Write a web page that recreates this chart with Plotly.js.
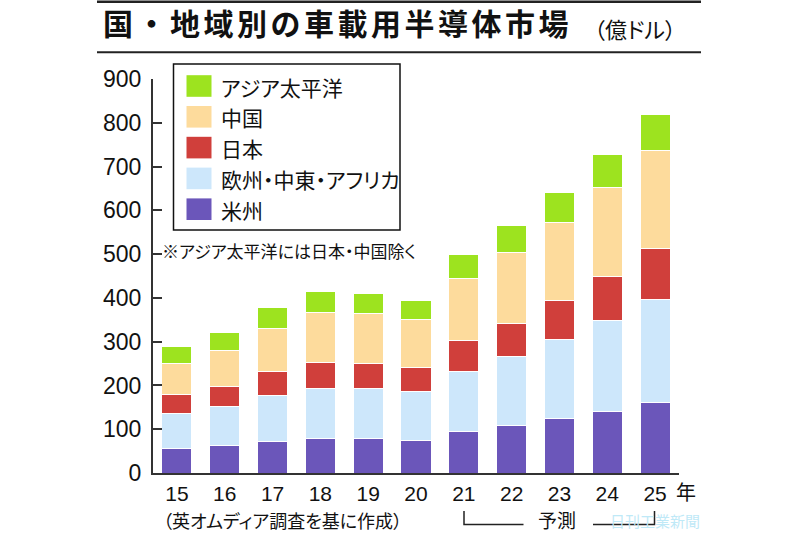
<!DOCTYPE html>
<html>
<head>
<meta charset="utf-8">
<script src="https://cdn.plot.ly/plotly-3.0.1.min.js"></script>
<style>
  html, body { margin: 0; padding: 0; background: #fff; }
  #chart { width: 800px; height: 533px; }
  .gtitle { letter-spacing: 3.5px; }
  text.annotation-text { font-feature-settings: "palt"; }
</style>
</head>
<body>
<div id="chart"></div>
<script>
// ---- data (億ドル) ----
const years = ['15', '16', '17', '18', '19', '20', '21', '22', '23', '24', '25'];
const americas = [55, 62, 72, 79, 78, 75, 95, 108, 124, 141, 160];       // 米州
const emea     = [80, 89, 104, 114, 115, 111, 138, 157, 181, 207, 236];  // 欧州・中東・アフリカ
const japan    = [45, 47, 55, 59, 58, 54, 70, 77, 88, 101, 116];         // 日本
const china    = [70, 81, 99, 114, 113, 111, 142, 161, 180, 203, 224];   // 中国
const apac     = [40, 43, 47, 49, 46, 43, 55, 62, 68, 75, 83];           // アジア太平洋
const seriesNames = ['米州', '欧州・中東・アフリカ', '日本', '中国', 'アジア太平洋'];
const yTicks = [0, 100, 200, 300, 400, 500, 600, 700, 800, 900];

// ---- styles ----
const seriesColors = ['#6b56ba', '#cde7fb', '#d03f3b', '#fddb9c', '#9de31f'];
const seriesValues = [americas, emea, japan, china, apac];

const W = 800, H = 533, M = {l: 153, r: 121, t: 79, b: 60};
const PW = W - M.l - M.r, PH = H - M.t - M.b;
const px = x => (x - M.l) / PW;
const py = y => (H - M.b - y) / PH;

const jp = 'Noto Sans CJK JP, sans-serif';
const num = 'Liberation Sans, Arial, sans-serif';

const traces = seriesValues.map((vals, i) => ({
  type: 'bar',
  x: years,
  y: vals,
  name: seriesNames[i],
  marker: {color: seriesColors[i], line: {color: '#ffffff', width: 1}},
  hoverinfo: 'x+y+name'
}));

const shapes = [];
const annotations = [];

// title rules
shapes.push({type: 'line', xref: 'paper', yref: 'paper', x0: px(97), x1: px(701), y0: py(1.8), y1: py(1.8), line: {color: '#222', width: 2.5}});
shapes.push({type: 'line', xref: 'paper', yref: 'paper', x0: px(97), x1: px(701), y0: py(52.3), y1: py(52.3), line: {color: '#222', width: 2}});

annotations.push({text: '（億ドル）', xref: 'paper', yref: 'paper', x: px(592), y: py(28), xanchor: 'left', yanchor: 'middle', showarrow: false, font: {family: jp, size: 22, color: '#111'}});

// legend box (top-to-bottom order is reverse of stacking)
shapes.push({type: 'rect', xref: 'paper', yref: 'paper', x0: px(173.5), x1: px(400), y0: py(230), y1: py(64), line: {color: '#111', width: 1.5}, fillcolor: 'rgba(255,255,255,0)'});
for (let k = 0; k < seriesNames.length; k++) {
  const i = seriesNames.length - 1 - k;
  const c = 86 + k * 30.8;
  shapes.push({type: 'rect', xref: 'paper', yref: 'paper', x0: px(186.5), x1: px(211.5), y0: py(c + 10.8), y1: py(c - 10.8), line: {width: 0}, fillcolor: seriesColors[i]});
  annotations.push({text: seriesNames[i], xref: 'paper', yref: 'paper', x: px(219), y: py(c + 0.5), xanchor: 'left', yanchor: 'middle', showarrow: false, font: {family: jp, size: 21, color: '#111'}});
}
annotations.push({text: '※アジア太平洋には日本・中国除く', xref: 'paper', yref: 'paper', x: px(160), y: py(250), xanchor: 'left', yanchor: 'middle', showarrow: false, font: {family: jp, size: 17, color: '#111'}});

// year suffix
annotations.push({text: '年', xref: 'paper', yref: 'paper', x: px(686), y: py(491), xanchor: 'center', yanchor: 'middle', showarrow: false, font: {family: jp, size: 20, color: '#111'}, borderpad: 0});

// source
annotations.push({text: '（英オムディア調査を基に作成）', xref: 'paper', yref: 'paper', x: px(162), y: py(519.5), xanchor: 'left', yanchor: 'middle', showarrow: false, font: {family: jp, size: 18, color: '#111'}, borderpad: 0});

// forecast bracket: spans years 21 .. 25
shapes.push({type: 'path', xref: 'paper', yref: 'paper', path: 'M ' + px(464) + ' ' + py(511) + ' L ' + px(464) + ' ' + py(524.5) + ' L ' + px(523.5) + ' ' + py(524.5), line: {color: '#222', width: 1.5}});
shapes.push({type: 'path', xref: 'paper', yref: 'paper', path: 'M ' + px(593) + ' ' + py(524.5) + ' L ' + px(654.5) + ' ' + py(524.5) + ' L ' + px(654.5) + ' ' + py(511), line: {color: '#222', width: 1.5}});
annotations.push({text: '予測', xref: 'paper', yref: 'paper', x: px(557), y: py(519.5), xanchor: 'center', yanchor: 'middle', showarrow: false, font: {family: jp, size: 19, color: '#111'}, borderpad: 0});

// faint watermark
annotations.push({text: '日刊工業新聞', xref: 'paper', yref: 'paper', x: px(655), y: py(520), xanchor: 'center', yanchor: 'middle', showarrow: false, font: {family: jp, size: 15, color: '#bfe9f7'}, borderpad: 0});

const layout = {
  width: W, height: H,
  margin: M,
  paper_bgcolor: '#ffffff',
  plot_bgcolor: '#ffffff',
  showlegend: false,
  barmode: 'stack',
  bargap: 0.37,
  title: {
    text: '国・地域別の車載用半導体市場',
    font: {family: jp, size: 30, weight: 700, color: '#111'},
    xref: 'container', yref: 'container',
    x: 103 / W, xanchor: 'left',
    y: 1 - 24 / H, yanchor: 'middle'
  },
  xaxis: {
    type: 'category',
    range: [-0.5, 10.5],
    showline: true, linecolor: '#333', linewidth: 2,
    ticks: '', showgrid: false, zeroline: false,
    tickfont: {family: num, size: 21, color: '#111'},
    ticklabelstandoff: 1,
    fixedrange: true
  },
  yaxis: {
    range: [0, 900],
    tickvals: yTicks,
    ticktext: yTicks.map(String),
    showline: true, linecolor: '#333', linewidth: 2,
    ticks: 'inside', ticklen: 9, tickwidth: 2, tickcolor: '#333',
    showgrid: false, zeroline: false,
    tickfont: {family: num, size: 23, color: '#111'},
    ticklabelstandoff: 5,
    fixedrange: true
  },
  shapes: shapes,
  annotations: annotations
};

Plotly.newPlot('chart', traces, layout, {displayModeBar: false, staticPlot: true});
</script>
</body>
</html>
